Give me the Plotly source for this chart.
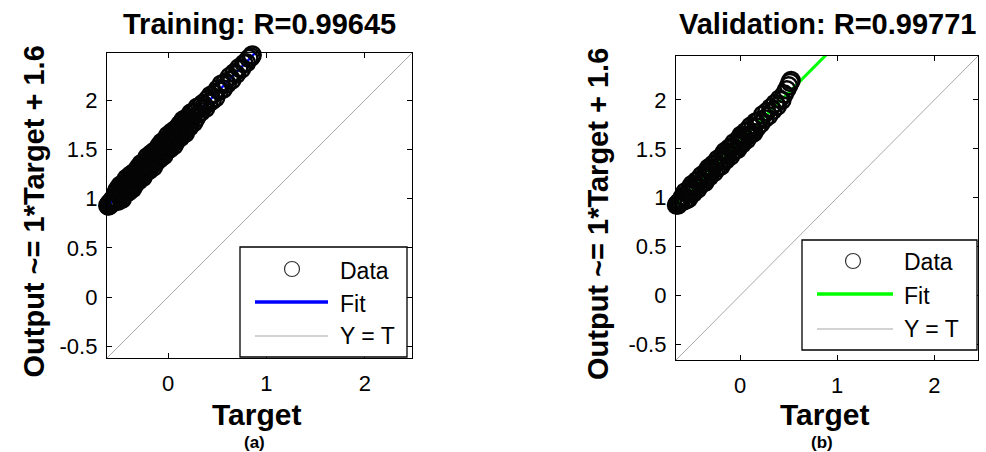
import plotly.graph_objects as go

W, H = 986, 452

# Training set: targets and network outputs
train_target = [-0.612, -0.605, -0.598, -0.591, -0.583, -0.577, -0.569, -0.562, -0.556, -0.548, -0.541, -0.535,
                -0.527, -0.520, -0.514, -0.506, -0.499, -0.492, -0.486, -0.478, -0.471, -0.465,
                -0.457, -0.450, -0.444, -0.437, -0.429, -0.422, -0.416, -0.408, -0.401, -0.395,
                -0.387, -0.380, -0.373, -0.366, -0.359, -0.352, -0.345, -0.338, -0.331, -0.324,
                -0.317, -0.310, -0.303, -0.296, -0.289, -0.282, -0.275, -0.268, -0.261, -0.254,
                -0.247, -0.240, -0.233, -0.226, -0.219, -0.212, -0.205, -0.198, -0.191, -0.184,
                -0.177, -0.170, -0.163, -0.156, -0.149, -0.142, -0.135, -0.128, -0.121, -0.114,
                -0.107, -0.100, -0.093, -0.086, -0.079, -0.072, -0.065, -0.058, -0.051, -0.044,
                -0.037, -0.030, -0.023, -0.016, -0.009, -0.002, 0.005, 0.012, 0.019, 0.026,
                0.033, 0.040, 0.047, 0.054, 0.061, 0.068, 0.075, 0.082, 0.089, 0.096,
                0.104, 0.112, 0.120, 0.128, 0.136, 0.144, 0.152, 0.160, 0.168, 0.176,
                0.185, 0.194, 0.203, 0.212, 0.221, 0.231, 0.241, 0.251, 0.262, 0.273,
                0.285, 0.297, 0.310, 0.323,
                0.338, 0.352, 0.368, 0.383, 0.399, 0.416, 0.432, 0.449, 0.467, 0.485,
                0.503, 0.522, 0.541, 0.561, 0.582, 0.603, 0.625, 0.648, 0.671, 0.695,
                0.720, 0.746, 0.772, 0.798, 0.822, 0.845, 0.856]
train_output = [0.928, 0.925, 0.952, 0.935, 0.962, 0.948, 0.985, 0.960, 0.999, 0.972, 1.012, 0.985,
                1.062, 0.979, 1.095, 0.974, 1.061, 1.028, 1.135, 0.993, 1.110, 0.996,
                1.115, 1.152, 1.068, 1.116, 1.054, 1.206, 1.117, 1.186, 1.068, 1.184,
                1.113, 1.240, 1.157, 1.234, 1.102, 1.209, 1.266, 1.173, 1.151, 1.223,
                1.280, 1.198, 1.315, 1.182, 1.279, 1.247, 1.354, 1.231, 1.329, 1.216,
                1.333, 1.370, 1.288, 1.335, 1.272, 1.425, 1.337, 1.404, 1.286, 1.404,
                1.331, 1.458, 1.375, 1.453, 1.320, 1.427, 1.485, 1.392, 1.369, 1.441,
                1.499, 1.416, 1.533, 1.401, 1.498, 1.465, 1.572, 1.450, 1.547, 1.434,
                1.552, 1.589, 1.506, 1.553, 1.491, 1.643, 1.555, 1.622, 1.505, 1.622,
                1.549, 1.677, 1.594, 1.671, 1.538, 1.646, 1.703, 1.610, 1.588, 1.660,
                1.718, 1.636, 1.755, 1.623, 1.721, 1.690, 1.798, 1.676, 1.775, 1.663,
                1.782, 1.822, 1.741, 1.790, 1.730, 1.870, 1.801, 1.871, 1.772, 1.874,
                1.816, 1.929, 1.862, 1.936,
                1.882, 1.966, 1.943, 1.918, 2.005, 1.973, 2.049, 1.997, 2.066, 2.024,
                2.113, 2.093, 2.163, 2.113, 2.185, 2.167, 2.240, 2.204, 2.278, 2.263,
                2.329, 2.316, 2.373, 2.380, 2.425, 2.439, 2.460]

# Validation set: targets and network outputs
val_target = [-0.655, -0.648, -0.640, -0.633, -0.625, -0.617, -0.609, -0.600,
              -0.590, -0.578, -0.566, -0.554, -0.542, -0.530, -0.518, -0.506, -0.494, -0.482,
              -0.470, -0.458, -0.446, -0.434, -0.422, -0.410, -0.398, -0.386, -0.374, -0.362,
              -0.350, -0.338, -0.326, -0.314, -0.302, -0.290, -0.278, -0.266, -0.254, -0.242,
              -0.230, -0.218, -0.206, -0.194, -0.182, -0.170, -0.158, -0.146, -0.134, -0.122,
              -0.110, -0.098, -0.086, -0.074, -0.062, -0.050, -0.038, -0.026, -0.014, -0.002,
              0.010, 0.022, 0.034, 0.046, 0.058, 0.070, 0.082, 0.094, 0.106, 0.118, 0.130, 0.142,
              0.160, 0.178, 0.196, 0.215, 0.234, 0.254, 0.274, 0.295, 0.316, 0.338,
              0.360, 0.383, 0.406, 0.430, 0.455, 0.480, 0.500, 0.515, 0.525]
val_output = [0.925, 0.935, 0.925, 0.950, 0.945, 0.968, 0.958, 0.985,
              1.015, 0.967, 1.059, 0.981, 1.043, 0.990, 1.097, 1.049, 1.136, 1.048,
              1.125, 1.107, 1.174, 1.091, 1.183, 1.135, 1.227, 1.149, 1.211, 1.158,
              1.265, 1.217, 1.304, 1.216, 1.293, 1.275, 1.342, 1.259, 1.351, 1.303,
              1.395, 1.317, 1.379, 1.326, 1.433, 1.385, 1.472, 1.384, 1.461, 1.443,
              1.510, 1.427, 1.519, 1.471, 1.563, 1.485, 1.547, 1.494, 1.601, 1.553,
              1.640, 1.552, 1.629, 1.611, 1.678, 1.595, 1.687, 1.639, 1.731, 1.653, 1.715, 1.667,
              1.775, 1.723, 1.791, 1.760, 1.849, 1.809, 1.879, 1.840, 1.921, 1.893,
              1.965, 1.938, 2.011, 1.995, 2.060, 2.105, 2.145, 2.180, 2.200]

# Linear fit (slope, intercept) and correlation of each set
train_fit = (1.04, 1.56)
val_fit = (1.00, 1.575)
train_r = 0.99645
val_r = 0.99771

# Axis limits (shared by x and y in each panel)
train_limits = [-0.62, 2.48]
val_limits = [-0.66, 2.45]

x_tick_vals = [0, 1, 2]
x_tick_text = ["0", "1", "2"]
y_tick_vals = [-0.5, 0, 0.5, 1, 1.5, 2]
y_tick_text = ["-0.5", "0", "0.5", "1", "1.5", "2"]
legend_labels = ["Data", "Fit", "Y = T"]

FONT = "Arial, Liberation Sans, sans-serif"


def px(x):
    return x / W


def py(y):
    return 1 - y / H


def fit_label(fit):
    m, b = fit
    return f"Output ~= {format(m, '.2g')}*Target + {format(b, '.2g')}"


panels = [
    dict(name="Training", target=train_target, output=train_output, fit=train_fit, r=train_r,
         lim=train_limits, color="#0000ff", fitw=2.5, xa="x", ya="y",
         box=(107, 412, 53, 358), tag="(a)", ylab_x=33,
         leg=dict(box=(240, 407, 247, 357), circ=(292, 269), line=(255, 328), tx=338,
                  rows=(271, 304, 336))),
    dict(name="Validation", target=val_target, output=val_output, fit=val_fit, r=val_r,
         lim=val_limits, color="#00ff00", fitw=3, xa="x2", ya="y2",
         box=(676, 978, 56, 360), tag="(b)", ylab_x=598,
         leg=dict(box=(802, 977, 240, 350), circ=(853, 261), line=(817, 893), tx=902,
                  rows=(262, 296, 329))),
]

fig = go.Figure()
shapes = []
annotations = []
layout_axes = {}

for i, p in enumerate(panels):
    lo, hi = p["lim"]
    m, b = p["fit"]
    # fit line across the axis range
    fig.add_trace(go.Scatter(x=[lo, hi], y=[m * lo + b, m * hi + b], mode="lines",
                             line=dict(color=p["color"], width=p["fitw"]),
                             xaxis=p["xa"], yaxis=p["ya"], showlegend=False, hoverinfo="skip"))
    # identity line
    fig.add_trace(go.Scatter(x=[lo, hi], y=[lo, hi], mode="lines",
                             line=dict(color="#a8a8a8", width=1),
                             xaxis=p["xa"], yaxis=p["ya"], showlegend=False, hoverinfo="skip"))
    # data circles
    fig.add_trace(go.Scatter(x=p["target"], y=p["output"], mode="markers",
                             marker=dict(symbol="circle-open", size=17, color="#050505",
                                         line=dict(width=2.5)),
                             cliponaxis=False,
                             xaxis=p["xa"], yaxis=p["ya"], showlegend=False))

    x0, x1, y0, y1 = p["box"]
    suffix = "" if i == 0 else str(i + 1)
    common = dict(showline=True, linecolor="black", linewidth=1.3, mirror="ticks",
                  ticks="inside", ticklen=5, tickwidth=1.3, tickcolor="black",
                  showgrid=False, zeroline=False, range=[lo, hi],
                  tickfont=dict(family=FONT, size=22, color="black"))
    layout_axes["xaxis" + suffix] = dict(common, domain=[px(x0), px(x1)],
                                         anchor=p["ya"], tickvals=x_tick_vals,
                                         ticktext=x_tick_text, ticklabelstandoff=5)
    layout_axes["yaxis" + suffix] = dict(common, domain=[py(y1), py(y0)],
                                         anchor=p["xa"], tickvals=y_tick_vals,
                                         ticktext=y_tick_text, ticklabelstandoff=4)

    cx = (x0 + x1) / 2
    cy = (y0 + y1) / 2
    annotations += [
        dict(text=f"<b>{p['name']}: R={p['r']}</b>", x=px(cx), y=py(24), xref="paper", yref="paper",
             xanchor="center", yanchor="middle", showarrow=False,
             font=dict(family=FONT, size=29, color="black")),
        dict(text=f"<b>{fit_label(p['fit'])}</b>", x=px(p["ylab_x"]), y=py(cy + 6),
             xref="paper", yref="paper", textangle=-90, xanchor="center", yanchor="middle",
             showarrow=False, font=dict(family=FONT, size=29, color="black")),
        dict(text="<b>Target</b>", x=px(cx - 3), y=py(414), xref="paper", yref="paper",
             xanchor="center", yanchor="middle", showarrow=False,
             font=dict(family=FONT, size=30, color="black")),
        dict(text=f"<b>{p['tag']}</b>", x=px(cx - 5), y=py(442), xref="paper", yref="paper",
             xanchor="center", yanchor="middle", showarrow=False,
             font=dict(family=FONT, size=17, color="black")),
    ]

    # legend box
    lg = p["leg"]
    bx0, bx1, by0, by1 = lg["box"]
    shapes.append(dict(type="rect", xref="paper", yref="paper", x0=px(bx0), x1=px(bx1),
                       y0=py(by1), y1=py(by0), fillcolor="white",
                       line=dict(color="black", width=1.3), layer="above"))
    ccx, ccy = lg["circ"]
    shapes.append(dict(type="circle", xref="paper", yref="paper", x0=px(ccx - 7.5), x1=px(ccx + 7.5),
                       y0=py(ccy + 7.5), y1=py(ccy - 7.5), line=dict(color="#333333", width=1.2),
                       layer="above"))
    lx0, lx1 = lg["line"]
    r_data, r_fit, r_id = lg["rows"]
    shapes.append(dict(type="line", xref="paper", yref="paper", x0=px(lx0), x1=px(lx1),
                       y0=py(r_fit - 2), y1=py(r_fit - 2),
                       line=dict(color=p["color"], width=3.5), layer="above"))
    shapes.append(dict(type="line", xref="paper", yref="paper", x0=px(lx0), x1=px(lx1),
                       y0=py(r_id), y1=py(r_id),
                       line=dict(color="#a8a8a8", width=1.2), layer="above"))
    for label, ry in zip(legend_labels, lg["rows"]):
        annotations.append(dict(text=label, x=px(lg["tx"]), y=py(ry), xref="paper", yref="paper",
                                xanchor="left", yanchor="middle", showarrow=False,
                                font=dict(family=FONT, size=23, color="black")))

fig.update_layout(
    width=W, height=H,
    margin=dict(l=0, r=0, t=0, b=0),
    paper_bgcolor="white", plot_bgcolor="white",
    showlegend=False,
    shapes=shapes,
    annotations=annotations,
    **layout_axes,
)

fig.write_html("out.html")
